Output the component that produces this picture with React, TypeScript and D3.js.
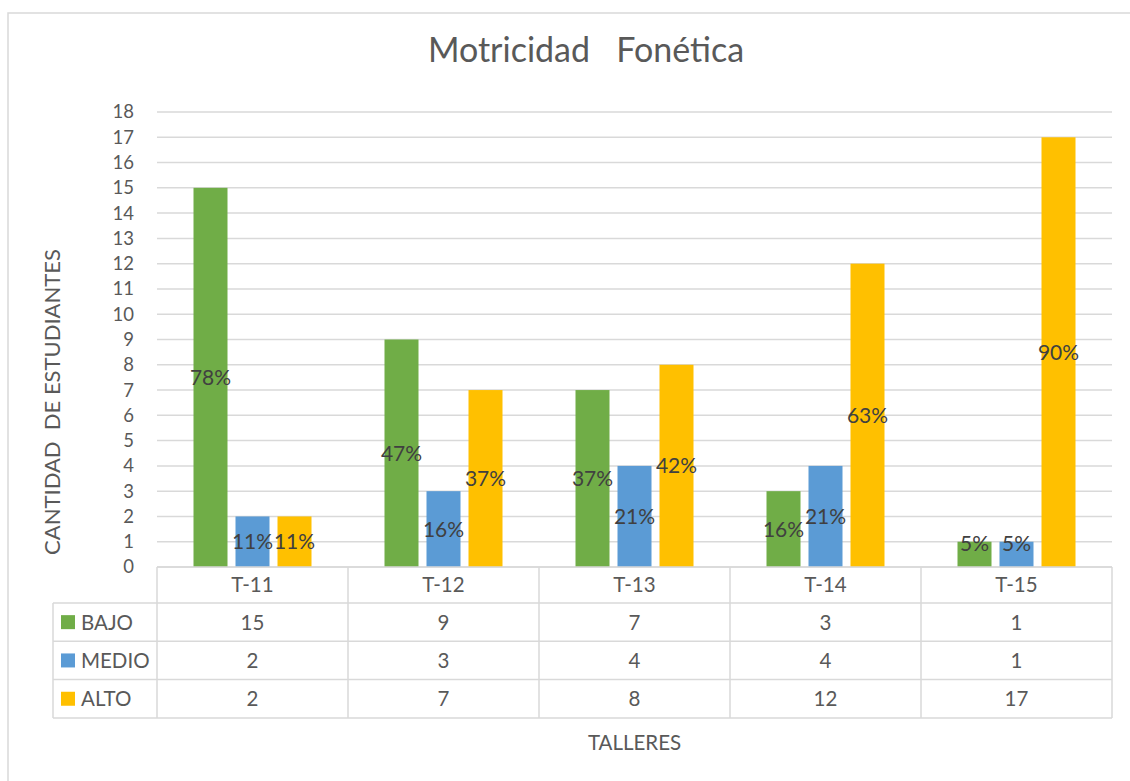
import React from "react";
import * as d3 from "d3";

// Data
const talleres = ["T-11", "T-12", "T-13", "T-14", "T-15"];
const seriesNames = ["BAJO", "MEDIO", "ALTO"];
const bajo = [15, 9, 7, 3, 1];
const medio = [2, 3, 4, 4, 1];
const alto = [2, 7, 8, 12, 17];
const bajoPct = ["78%", "47%", "37%", "16%", "5%"];
const medioPct = ["11%", "16%", "21%", "21%", "5%"];
const altoPct = ["11%", "37%", "42%", "63%", "90%"];
const yTicks = d3.range(0, 19);

const colors = ["#70AD47", "#5B9BD5", "#FFC000"];
const values = [bajo, medio, alto];
const labels = [bajoPct, medioPct, altoPct];

const FONT = "Lato, 'Open Sans', sans-serif";
const GRID = "#d9d9d9";
const TEXT = "#595959";

const W = 1130;
const H = 781;

const App = () => {
  // Dimensions
  const plot = { left: 157, right: 1112, top: 112, bottom: 567 };
  const rowH = 38.3;
  const legendLeft = 53;

  // Scales
  const yScale = d3.scaleLinear().domain([0, 18]).range([plot.bottom, plot.top]);
  const xScale = d3.scaleBand().domain(talleres).range([plot.left, plot.right]);
  const band = xScale.bandwidth();
  const inner = d3
    .scaleBand()
    .domain(seriesNames)
    .range([(band - 118) / 2, (band + 118) / 2])
    .paddingInner(8 / 42);

  const headerBottom = plot.bottom + 36;
  const tableBottom = headerBottom + rowH * 3;

  return (
    <svg
      width={W}
      height={H}
      style={{ position: "absolute", left: 0, top: 0, background: "#fff" }}
      fontFamily={FONT}
    >
      {/* chart border */}
      <rect x={8} y={13} width={W + 20} height={H + 20} fill="#fff" stroke={GRID} strokeWidth={1.5} />

      {/* title */}
      <text x={586} y={62} textAnchor="middle" fontSize={34} fill={TEXT} style={{ whiteSpace: "pre" }}>
        {"Motricidad   Fonética"}
      </text>

      {/* gridlines */}
      {yTicks.map((t) => (
        <line key={t} x1={plot.left} x2={plot.right} y1={yScale(t)} y2={yScale(t)} stroke={GRID} strokeWidth={1.5} />
      ))}

      {/* y tick labels */}
      {yTicks.map((t) => (
        <text key={t} x={134} y={yScale(t)} dy="0.35em" textAnchor="end" fontSize={18.5} fill={TEXT}>
          {t}
        </text>
      ))}

      {/* y axis title */}
      <text
        transform={`translate(60, 402) rotate(-90)`}
        textAnchor="middle"
        fontSize={22}
        fill={TEXT}
        style={{ whiteSpace: "pre" }}
      >
        {"CANTIDAD  DE ESTUDIANTES"}
      </text>

      {/* bars */}
      {talleres.map((cat, i) => (
        <g key={cat} transform={`translate(${xScale(cat)},0)`}>
          {seriesNames.map((s, j) => (
            <rect
              key={s}
              x={inner(s)}
              width={inner.bandwidth()}
              y={yScale(values[j][i])}
              height={yScale(0) - yScale(values[j][i])}
              fill={colors[j]}
            />
          ))}
        </g>
      ))}

      {/* data labels */}
      {talleres.map((cat, i) => (
        <g key={cat} transform={`translate(${xScale(cat)},0)`}>
          {seriesNames.map((s, j) => {
            const mid = (yScale(values[j][i]) + yScale(0)) / 2;
            const y = Math.min(mid, yScale(0) - 24);
            return (
              <text
                key={s}
                x={inner(s)! + inner.bandwidth() / 2}
                y={y}
                dy="0.36em"
                textAnchor="middle"
                fontSize={21}
                fill="#404040"
              >
                {labels[j][i]}
              </text>
            );
          })}
        </g>
      ))}

      {/* data table */}
      <g stroke={GRID} strokeWidth={1.5}>
        <line x1={plot.left} x2={plot.right} y1={plot.bottom} y2={plot.bottom} />
        {[0, 1, 2, 3].map((r) => (
          <line key={r} x1={legendLeft} x2={plot.right} y1={headerBottom + r * rowH} y2={headerBottom + r * rowH} />
        ))}
        <line x1={legendLeft} x2={legendLeft} y1={headerBottom} y2={tableBottom} />
        {talleres.map((cat) => (
          <line key={cat} x1={xScale(cat)} x2={xScale(cat)} y1={plot.bottom} y2={tableBottom} />
        ))}
        <line x1={plot.right} x2={plot.right} y1={plot.bottom} y2={tableBottom} />
      </g>

      {/* category headers */}
      {talleres.map((cat) => (
        <text
          key={cat}
          x={xScale(cat)! + band / 2}
          y={(plot.bottom + headerBottom) / 2}
          dy="0.36em"
          textAnchor="middle"
          fontSize={20.5}
          fill={TEXT}
        >
          {cat}
        </text>
      ))}

      {/* legend keys + values */}
      {seriesNames.map((s, j) => {
        const cy = headerBottom + rowH * j + rowH / 2;
        return (
          <g key={s}>
            <rect x={61} y={cy - 7} width={14} height={14} fill={colors[j]} />
            <text x={81} y={cy} dy="0.36em" fontSize={20.5} fill={TEXT}>
              {s}
            </text>
            {talleres.map((cat, i) => (
              <text
                key={cat}
                x={xScale(cat)! + band / 2}
                y={cy}
                dy="0.36em"
                textAnchor="middle"
                fontSize={20.5}
                fill={TEXT}
              >
                {values[j][i]}
              </text>
            ))}
          </g>
        );
      })}

      {/* x axis title */}
      <text x={(plot.left + plot.right) / 2} y={743} dy="0.36em" textAnchor="middle" fontSize={20.5} fill={TEXT}>
        TALLERES
      </text>
    </svg>
  );
};

export default App;
